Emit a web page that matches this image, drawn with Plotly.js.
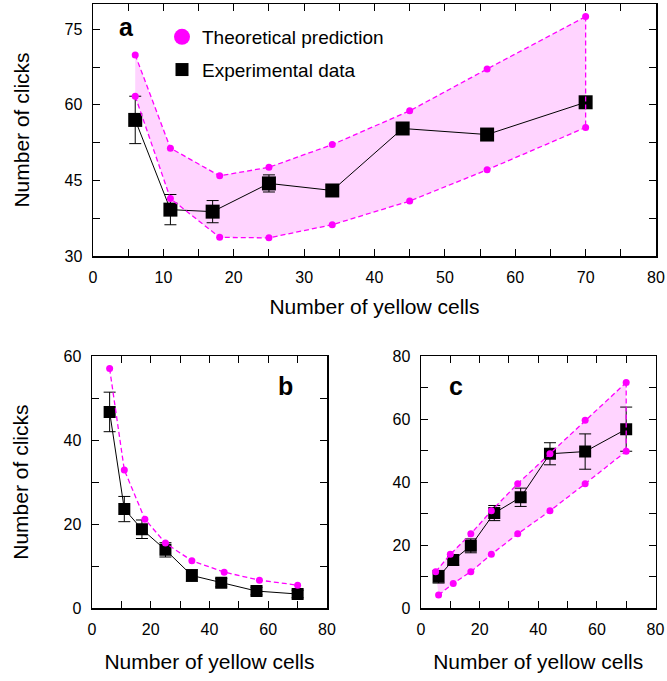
<!DOCTYPE html>
<html>
<head>
<meta charset="utf-8">
<script src="https://cdn.plot.ly/plotly-3.0.1.min.js"></script>
<style>html,body{margin:0;padding:0;background:#fff;}#chart{width:667px;height:681px;}</style>
</head>
<body>
<div id="chart"></div>
<script>
// ---------- Data ----------
// Panel a
var aExpX = [6, 11, 17, 25, 34, 44, 56, 70];
var aExpY = [57.0, 39.2, 38.8, 44.4, 43.0, 55.3, 54.1, 60.5];
var aExpErr = [4.7, 3.0, 2.2, 1.7, 1.0, 0.9, 0.9, 0.9];
var aUpX = [6, 11, 18, 25, 34, 45, 56, 70];
var aUpY = [69.9, 51.4, 45.9, 47.6, 52.1, 58.8, 67.1, 77.5];
var aLowX = [6, 11, 18, 25, 34, 45, 56, 70];
var aLowY = [61.7, 41.4, 33.7, 33.6, 36.2, 40.9, 47.1, 55.5];
// Panel b
var bExpX = [6, 11, 17, 25, 34, 44, 56, 70];
var bExpY = [46.7, 23.6, 18.8, 13.9, 7.8, 6.1, 4.1, 3.4];
var bExpErr = [4.7, 3.0, 2.2, 1.7, 1.4, 1.0, 0.9, 0.9];
var bThX = [6, 11, 18, 25, 34, 45, 57, 70];
var bThY = [57.0, 32.9, 21.2, 15.5, 11.3, 8.6, 6.7, 5.5];
// Panel c
var cExpX = [6, 11, 17, 25, 34, 44, 56, 70];
var cExpY = [10.0, 15.3, 19.8, 30.2, 35.2, 49.0, 49.7, 56.8];
var cExpErr = [2.0, 1.6, 2.2, 2.4, 2.9, 3.5, 5.6, 7.0];
var cUpX = [5, 10, 17, 24, 33, 44, 56, 70];
var cUpY = [11.6, 17.1, 23.6, 30.9, 39.5, 49.0, 59.6, 71.6];
var cLowX = [6, 11, 17, 24, 33, 44, 56, 70];
var cLowY = [4.2, 7.9, 11.6, 17.1, 23.6, 30.9, 39.5, 49.8];

var legendNames = ["Theoretical prediction", "Experimental data"];
var panelLabels = ["a", "b", "c"];
var xTitle = "Number of yellow cells";
var yTitle = "Number of clicks";

// ---------- Styles ----------
var MAG = "#ff00ff";
var FILL = "#ffd4ff";
var FONT = "Liberation Sans, Arial, sans-serif";
var W = 667, H = 681;

function rev(a){ return a.slice().reverse(); }
function last(a){ return a[a.length-1]; }

function band(xa, ya, upX, upY, lowX, lowY){
  return [
    {x: upX.concat(rev(lowX)), y: upY.concat(rev(lowY)), xaxis: xa, yaxis: ya,
     mode: "lines", fill: "toself", fillcolor: FILL, line: {width: 0, color: FILL},
     hoverinfo: "skip", showlegend: false},
  ];
}
function theoryLine(xa, ya, X, Y){
  return {x: X, y: Y, xaxis: xa, yaxis: ya, mode: "lines+markers",
    line: {color: MAG, width: 1.3, dash: "5px,3px"},
    marker: {color: MAG, size: 7, symbol: "circle"}, showlegend: false};
}
function edgeLine(xa, ya, upX, upY, lowX, lowY){
  return {x: [last(upX), last(lowX)], y: [last(upY), last(lowY)], xaxis: xa, yaxis: ya,
    mode: "lines", line: {color: MAG, width: 1.3, dash: "5px,3px"}, showlegend: false};
}
function expTrace(xa, ya, X, Y, E, size){
  return {x: X, y: Y, xaxis: xa, yaxis: ya, mode: "lines+markers",
    line: {color: "#000", width: 1},
    marker: {color: "#000", size: size, symbol: "square"},
    error_y: {type: "data", array: E, visible: true, color: "#000", thickness: 1, width: 6},
    showlegend: false};
}

var traces = [];
traces = traces.concat(band("x", "y", aUpX, aUpY, aLowX, aLowY));
traces.push(expTrace("x", "y", aExpX, aExpY, aExpErr, 14));
traces.push(theoryLine("x", "y", aUpX, aUpY));
traces.push(theoryLine("x", "y", aLowX, aLowY));
traces.push(edgeLine("x", "y", aUpX, aUpY, aLowX, aLowY));

traces.push(expTrace("x2", "y2", bExpX, bExpY, bExpErr, 12));
traces.push(theoryLine("x2", "y2", bThX, bThY));

traces = traces.concat(band("x3", "y3", cUpX, cUpY, cLowX, cLowY));
traces.push(expTrace("x3", "y3", cExpX, cExpY, cExpErr, 12));
traces.push(theoryLine("x3", "y3", cUpX, cUpY));
traces.push(theoryLine("x3", "y3", cLowX, cLowY));
traces.push(edgeLine("x3", "y3", cUpX, cUpY, cLowX, cLowY));

// legend-only entries
traces.push({x: [null], y: [null], xaxis: "x", yaxis: "y", mode: "markers", name: legendNames[0],
  marker: {color: MAG, size: 17, symbol: "circle"}, showlegend: true, legendgroup: "g1"});
traces.push({x: [null], y: [null], xaxis: "x", yaxis: "y", mode: "markers", name: legendNames[1],
  marker: {color: "#000", size: 13, symbol: "square"}, showlegend: true, legendgroup: "g2"});

function axisCommon(extra){
  var o = {showgrid: false, zeroline: false, showline: true, linecolor: "#000", linewidth: 1.5,
    mirror: "ticks", ticks: "inside", ticklen: 7, tickwidth: 1, tickcolor: "#000",
    ticklabelstandoff: 6,
    tickfont: {family: FONT, size: 16, color: "#000"}, fixedrange: true};
  for (var k in extra) o[k] = extra[k];
  return o;
}
function titleObj(t, standoff){
  return {text: t, font: {family: FONT, size: 21, color: "#000"}, standoff: standoff};
}
function panelLabel(t, xr, yr, x, y){
  return {text: "<b>" + t + "</b>", xref: xr, yref: yr, x: x, y: y, xanchor: "center", yanchor: "middle",
    showarrow: false, font: {family: FONT, size: 25, color: "#000"}};
}

var aTop = 4, aBot = 256, bTop = 356, bBot = 608.3;
var layout = {
  width: W, height: H, margin: {l: 0, r: 0, t: 0, b: 0},
  paper_bgcolor: "#fff", plot_bgcolor: "#fff",
  font: {family: FONT, color: "#000"},
  showlegend: true,
  legend: {x: 162/W, y: 1 - 18/H, xanchor: "left", yanchor: "top", bgcolor: "rgba(0,0,0,0)",
    font: {family: FONT, size: 19, color: "#000"}, traceorder: "grouped", tracegroupgap: 5,
    itemsizing: "trace"},
  xaxis: axisCommon({domain: [93/W, 656/W], range: [0, 80], dtick: 10, tick0: 0,
    minor: {dtick: 5, ticks: "inside", ticklen: 7, tickcolor: "#000", tickwidth: 1},
    anchor: "y", title: titleObj(xTitle, 14)}),
  yaxis: axisCommon({domain: [1 - aBot/H, 1 - aTop/H], range: [30, 80], dtick: 15, tick0: 30,
    minor: {dtick: 7.5, ticks: "inside", ticklen: 7, tickcolor: "#000", tickwidth: 1},
    anchor: "x", title: titleObj(yTitle, 29)}),
  xaxis2: axisCommon({domain: [92/W, 327/W], range: [0, 80], dtick: 20, tick0: 0,
    minor: {dtick: 10, ticks: "inside", ticklen: 7, tickcolor: "#000", tickwidth: 1},
    anchor: "y2", title: titleObj(xTitle, 17)}),
  yaxis2: axisCommon({domain: [1 - bBot/H, 1 - bTop/H], range: [0, 60], dtick: 20, tick0: 0,
    minor: {dtick: 10, ticks: "inside", ticklen: 7, tickcolor: "#000", tickwidth: 1},
    anchor: "x2", title: titleObj(yTitle, 29)}),
  xaxis3: axisCommon({domain: [421/W, 655.5/W], range: [0, 80], dtick: 20, tick0: 0,
    minor: {dtick: 10, ticks: "inside", ticklen: 7, tickcolor: "#000", tickwidth: 1},
    anchor: "y3", title: titleObj(xTitle, 17)}),
  yaxis3: axisCommon({domain: [1 - bBot/H, 1 - bTop/H], range: [0, 80], dtick: 20, tick0: 0,
    minor: {dtick: 10, ticks: "inside", ticklen: 7, tickcolor: "#000", tickwidth: 1},
    anchor: "x3"}),
  annotations: [
    panelLabel(panelLabels[0], "x domain", "y domain", 0.0595, 0.909),
    panelLabel(panelLabels[1], "x2 domain", "y2 domain", 0.823, 0.881),
    panelLabel(panelLabels[2], "x3 domain", "y3 domain", 0.149, 0.881)
  ]
};

Plotly.newPlot("chart", traces, layout, {displayModeBar: false, staticPlot: true});
</script>
</body>
</html>
